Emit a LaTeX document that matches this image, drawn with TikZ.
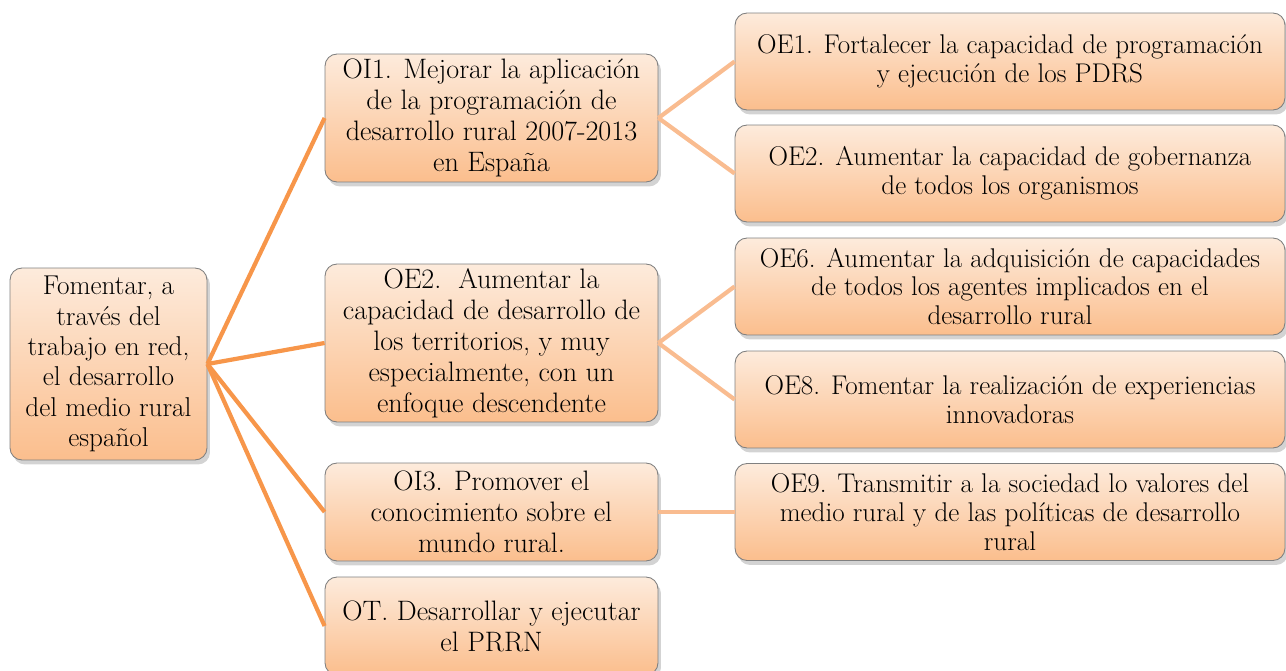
\documentclass[tikz,border=0pt]{standalone}
\usepackage{tikz}
\usetikzlibrary{shadows,positioning}
\definecolor{boxtop}{HTML}{FDEBDC}
\definecolor{boxbot}{HTML}{FBBE8D}
\definecolor{boxline}{HTML}{808080}
\definecolor{linkone}{HTML}{F7964A}
\definecolor{linktwo}{HTML}{F9BC90}

\begin{document}
\begin{tikzpicture}[x=0.02cm,y=-0.02cm,
  objbox/.style={draw=boxline,line width=0.5pt,rounded corners=0.24cm,
    top color=boxtop,bottom color=boxbot,align=center,inner xsep=1pt,inner ysep=2pt,
    drop shadow={shadow xshift=0.6mm,shadow yshift=-0.9mm,opacity=0.35}},
  rootbox/.style={objbox,minimum width=3.94cm,minimum height=3.84cm,
    font=\fontsize{15.5}{17.3}\selectfont},
  midbox/.style={objbox,minimum width=6.66cm,font=\fontsize{16}{17.6}\selectfont},
  endbox/.style={objbox,minimum width=11cm,minimum height=1.94cm,
    font=\fontsize{15.4}{16.4}\selectfont},
  linkA/.style={draw=linkone,line width=2.4pt},
  linkB/.style={draw=linktwo,line width=2.4pt}]
\useasboundingbox (0,0) rectangle (1286,671);
% root
\node[rootbox] (root) at (108.5,364) {Fomentar, a\\trav\'es del\\trabajo en red,\\el desarrollo\\del medio rural\\espa\~nol};
% middle column
\node[midbox,minimum height=2.56cm] (oi1) at (491.5,118) {OI1. Mejorar la aplicaci\'on\\de la programaci\'on de\\desarrollo rural 2007-2013\\en Espa\~na};
\node[midbox,minimum height=3.16cm] (oe2m) at (491.5,343) {OE2.\ \ Aumentar la\\capacidad de desarrollo de\\los territorios, y muy\\especialmente, con un\\enfoque descendente};
\node[midbox,minimum height=1.96cm] (oi3) at (491.5,512) {OI3. Promover el\\conocimiento sobre el\\mundo rural.};
\node[midbox,minimum height=1.96cm] (ot) at (491.5,626) {OT. Desarrollar y ejecutar\\el PRRN};
% right column
\node[endbox] (oe1) at (1010,61.5) {OE1. Fortalecer la capacidad de programaci\'on\\y ejecuci\'on de los PDRS};
\node[endbox] (oe2) at (1010,173.5) {OE2. Aumentar la capacidad de gobernanza\\de todos los organismos};
\node[endbox] (oe6) at (1010,286.5) {OE6. Aumentar la adquisici\'on de capacidades\\de todos los agentes implicados en el\\desarrollo rural};
\node[endbox] (oe8) at (1010,399.5) {OE8. Fomentar la realizaci\'on de experiencias\\innovadoras};
\node[endbox] (oe9) at (1010,512) {OE9. Transmitir a la sociedad lo valores del\\medio rural y de las pol\'iticas de desarrollo\\rural};
% links
\path[linkA] (root.east) edge (oi1.west);
\path[linkA] (root.east) edge (oe2m.west);
\path[linkA] (root.east) edge (oi3.west);
\path[linkA] (root.east) edge (ot.west);
\path[linkB] (oi1.east) edge (oe1.west);
\path[linkB] (oi1.east) edge (oe2.west);
\path[linkB] (oe2m.east) edge (oe6.west);
\path[linkB] (oe2m.east) edge (oe8.west);
\path[linkB] (oi3.east) edge (oe9.west);
\end{tikzpicture}
\end{document}
